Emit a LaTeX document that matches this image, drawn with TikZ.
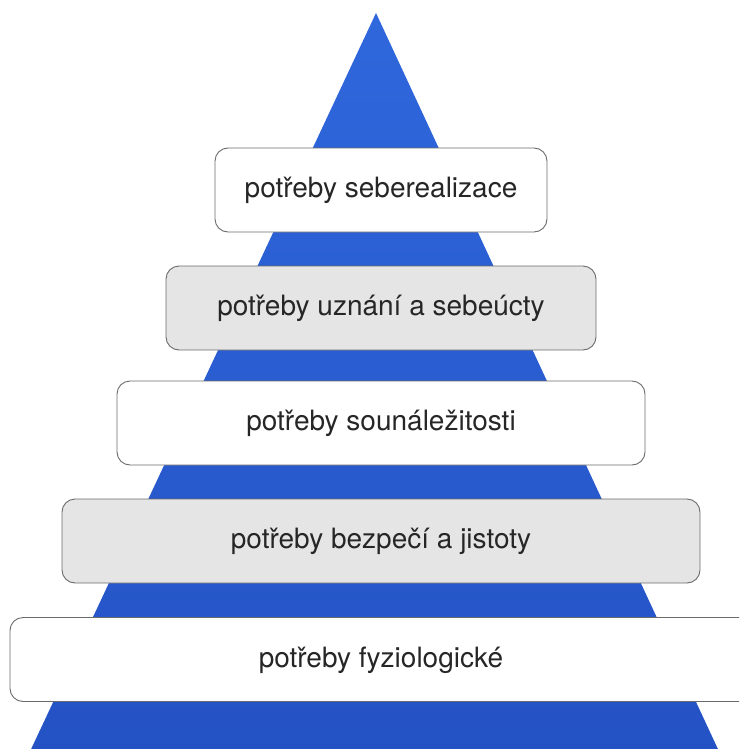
\documentclass[tikz,border=0pt]{standalone}
\usepackage{fontspec}
\setmainfont{TeX Gyre Heros}
\begin{document}
\begin{tikzpicture}[x=1pt,y=-1pt,
  level/.style={draw=black!58, line width=0.9pt, rounded corners=13pt,
    minimum height=84pt, inner sep=0pt, font=\fontsize{28}{32}\selectfont,
    text height=22pt, text depth=7pt, text=black!85},
  lightlevel/.style={level, fill=white},
  greylevel/.style={level, fill=black!10}]
  \useasboundingbox (0,0) rectangle (739,749);
  \begin{scope}
    \clip (0,0) rectangle (739,749);
    % pyramid
    \shade[top color={rgb,255:red,47;green,103;blue,220}, bottom color={rgb,255:red,36;green,82;blue,196}]
      (376,13) -- (723,760) -- (26,760) -- cycle;
    % levels, top to bottom
    \node[lightlevel, minimum width=332pt] (l1) at (381,190) {potřeby seberealizace};
    \node[greylevel, minimum width=430pt] (l2) at (381,308) {potřeby uznání a sebeúcty};
    \node[lightlevel, minimum width=528pt] (l3) at (381,423) {potřeby sounáležitosti};
    \node[greylevel, minimum width=638pt] (l4) at (381,541) {potřeby bezpečí a jistoty};
    \node[lightlevel, minimum width=742pt] (l5) at (381,659.5) {potřeby fyziologické};
  \end{scope}
\end{tikzpicture}
\end{document}
